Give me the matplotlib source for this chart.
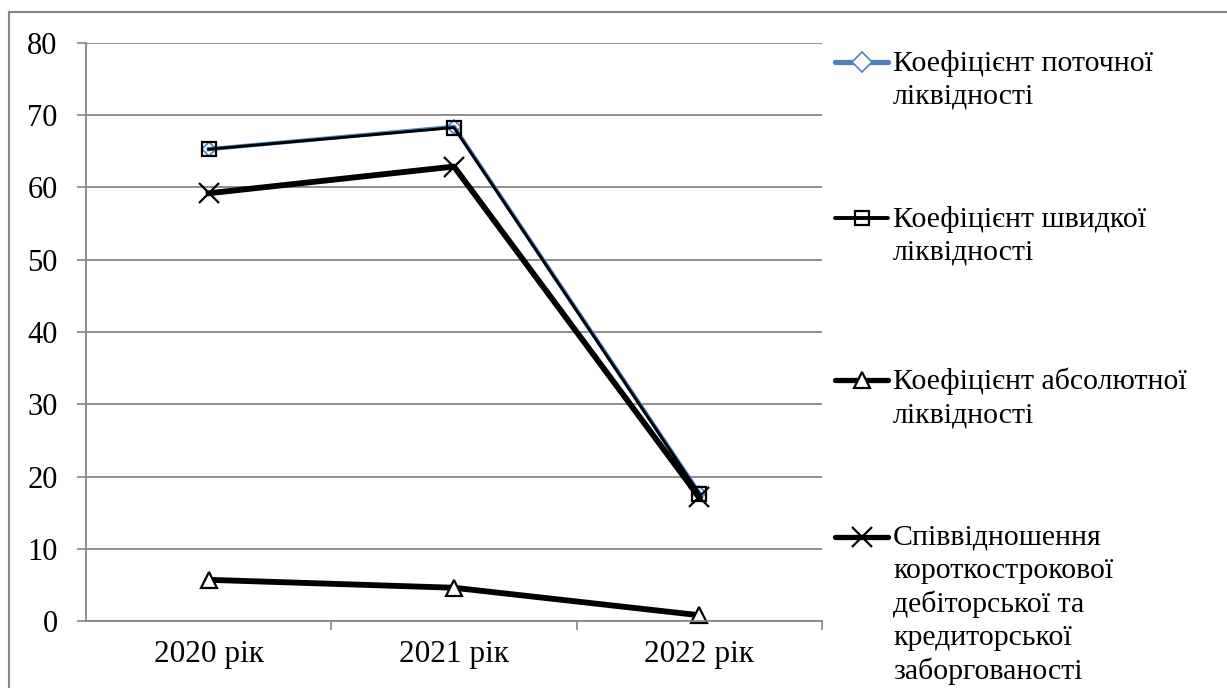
# -*- coding: utf-8 -*-
import matplotlib
matplotlib.use("Agg")
from matplotlib import pyplot
from matplotlib.lines import Line2D

years = ["2020 рік", "2021 рік", "2022 рік"]
current_ratio = [65.3, 68.4, 17.7]
quick_ratio = [65.3, 68.3, 17.6]
absolute_ratio = [5.7, 4.6, 0.8]
receivable_payable = [59.2, 62.9, 17.1]

labels = [
    "Коефіцієнт поточної\nліквідності",
    "Коефіцієнт швидкої\nліквідності",
    "Коефіцієнт абсолютної\nліквідності",
    "Співвідношення\nкороткострокової\nдебіторської та\nкредиторської\nзаборгованості",
]

BLUE = "#4F81BD"
GRID = "#868686"
W, H = 1227, 688


def main():
    pyplot.rcParams["font.family"] = ["Liberation Serif", "DejaVu Serif"]
    fig = pyplot.figure(figsize=[W / 100, H / 100], dpi=100)
    ax = fig.add_axes([86 / W, 67 / H, (822 - 86) / W, (621 - 43) / H])

    x = list(range(len(years)))
    styles = [
        dict(color=BLUE, lw=3.0, marker="D", ms=7, mfc="none", mec=BLUE, mew=1.2),
        dict(color="black", lw=2.0, marker="s", ms=10, mfc="none", mec="black", mew=1.6),
        dict(color="black", lw=4.2, marker="^", ms=12, mfc="white", mec="black", mew=1.6),
        dict(color="black", lw=4.2, marker="x", ms=14, mec="black", mew=1.6),
    ]
    series = [current_ratio, quick_ratio, absolute_ratio, receivable_payable]
    for vals, st in zip(series, styles):
        ax.plot(x, vals, clip_on=False, **st)

    ax.set_xlim(-0.5, 2.5)
    ax.set_ylim(0, 80)
    ax.set_yticks(range(0, 81, 10))
    ax.set_xticks(x)
    ax.set_xticklabels(years)
    ax.set_xticks([0.5, 1.5, 2.5], minor=True)
    ax.tick_params(axis="x", which="major", length=0, labelsize=22.5, pad=14)
    ax.tick_params(axis="x", which="minor", length=6.5, width=1.2, color=GRID, direction="out")
    ax.tick_params(axis="y", length=6.5, width=1.2, color=GRID, labelsize=22, pad=14)
    ax.set_axisbelow(True)
    ax.grid(axis="y", color=GRID, lw=1.3)
    for s in ["top", "right"]:
        ax.spines[s].set_visible(False)
    for s in ["left", "bottom"]:
        ax.spines[s].set_color(GRID)
        ax.spines[s].set_linewidth(1.3)

    # legend drawn by hand, Excel style
    rows = [62, 218, 380, 537]
    leg_lw = [3.8, 2.8, 3.8, 3.8]
    leg_ms = [10, 10, 12, 14]
    for lab, st, row, lw, ms in zip(labels, styles, rows, leg_lw, leg_ms):
        yf = 1 - row / H
        leg_st = dict(st)
        leg_st["lw"] = lw
        fig.add_artist(Line2D([835 / W, 888 / W], [yf, yf], solid_capstyle="round",
                              markevery=[], **leg_st))
        mk = dict(st)
        mk.pop("lw")
        mk.pop("color")
        mk["ms"] = ms
        if st["marker"] == "D":
            mk["mfc"] = "white"
        fig.add_artist(Line2D([862 / W], [yf], ls="none", color=st["color"], **mk))
        fig.text(893 / W, 1 - (row - 12) / H, lab, fontsize=21.5, va="top", ha="left",
                 linespacing=1.33)

    # outer frame, partly cut off at right and bottom
    fig.add_artist(Line2D([9 / W, 9 / W], [0, 1 - 12 / H], color=GRID, lw=1.5))
    fig.add_artist(Line2D([9 / W, 1], [1 - 12 / H, 1 - 12 / H], color=GRID, lw=1.5))
    fig.savefig("out.png", dpi=100)


if __name__ == "__main__":
    main()
